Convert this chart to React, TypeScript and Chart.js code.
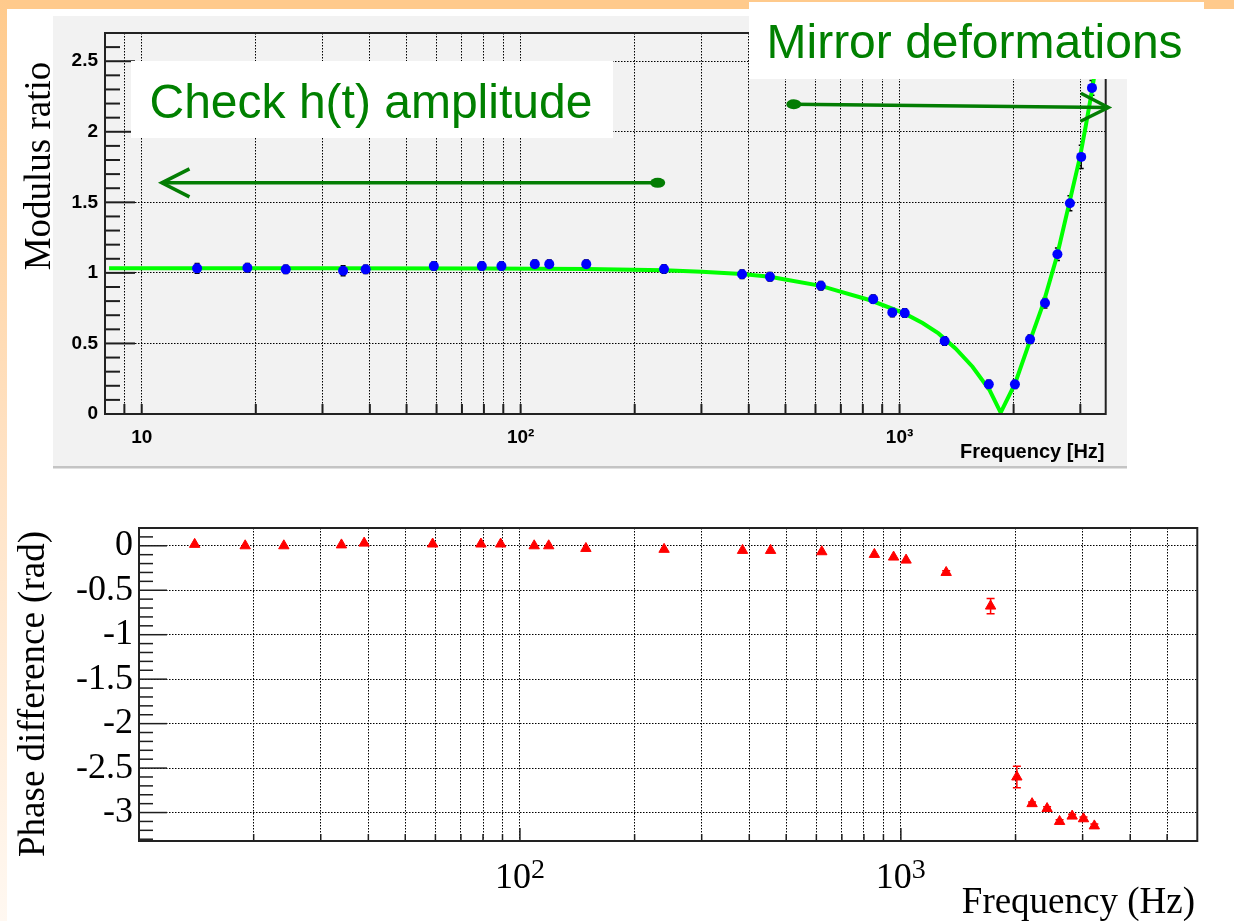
import React, { useEffect, useRef } from 'react';
import { Chart, registerables } from 'chart.js';

Chart.register(...registerables);

// ---- measured samples (frequency in Hz) ----
const frequencies = [14, 19, 24, 34, 39, 59, 79, 89, 109, 119, 149, 239, 384, 455, 620, 852, 957, 1032, 1315, 1720, 2016, 2210, 2420, 2610, 2816, 3016, 3220];
const modulusRatio = [1.032, 1.036, 1.025, 1.015, 1.025, 1.048, 1.048, 1.048, 1.062, 1.062, 1.062, 1.027, 0.99, 0.972, 0.909, 0.814, 0.72, 0.715, 0.517, 0.21, 0.21, 0.529, 0.786, 1.132, 1.494, 1.822, 2.311];
const modulusError = [0.035, 0.03, 0.03, 0.035, 0.03, 0.03, 0.03, 0.03, 0.03, 0.03, 0.03, 0.03, 0.03, 0.03, 0.03, 0.03, 0.03, 0.03, 0.03, 0.03, 0.03, 0.03, 0.035, 0.045, 0.053, 0.083, 0.053];
const phaseDifference = [0.016, 0.0, 0.0, 0.01, 0.03, 0.02, 0.02, 0.02, 0.0, 0.0, -0.03, -0.04, -0.052, -0.052, -0.067, -0.097, -0.127, -0.161, -0.3, -0.678, -2.6, -2.9, -2.955, -3.1, -3.04, -3.07, -3.15];
const phaseError = [0, 0, 0, 0, 0, 0, 0, 0, 0, 0, 0, 0, 0, 0, 0, 0, 0, 0, 0.02, 0.085, 0.12, 0.02, 0.02, 0.02, 0.02, 0.02, 0.02];

// ---- fitted modulus model ----
const fitFrequencies = [8.2, 30, 80, 150, 240, 300, 384, 455, 499, 620, 680, 837, 1030, 1150, 1267, 1405, 1558, 1728, 1849, 2018, 2197, 2396, 2600, 2790, 2994, 3100, 3200, 3300, 3420];
const fitModulus = [1.032, 1.032, 1.031, 1.027, 1.018, 1.008, 0.992, 0.972, 0.953, 0.908, 0.876, 0.806, 0.713, 0.645, 0.571, 0.465, 0.335, 0.17, 0.01, 0.217, 0.5, 0.784, 1.114, 1.468, 1.822, 2.04, 2.25, 2.47, 2.75];

// ---- axes ----
const modulusXTicks = [9, 10, 20, 30, 40, 50, 60, 70, 80, 90, 100, 200, 300, 400, 500, 600, 700, 800, 900, 1000, 2000, 3000];
const modulusXLabels: Record<number, string> = { 10: '10', 100: '10²', 1000: '10³' };
const modulusYTicks = [0, 0.5, 1, 1.5, 2, 2.5];
const modulusYLabels = ['0', '0.5', '1', '1.5', '2', '2.5'];

const phaseXTicks = [20, 30, 40, 50, 60, 70, 80, 90, 100, 200, 300, 400, 500, 600, 700, 800, 900, 1000, 2000, 3000, 4000, 5000];
const phaseXDecades = [100, 1000];
const phaseXExponents = ['2', '3'];
const phaseYTicks = [0, -0.5, -1, -1.5, -2, -2.5, -3];
const phaseYLabels = ['0', '-0.5', '-1', '-1.5', '-2', '-2.5', '-3'];

// ---- annotation anchors (data units) ----
const amplitudeArrow = { fromX: 230, fromY: 1.638, toX: 11.3, toY: 1.638 };
const mirrorArrow = { fromX: 526, fromY: 2.195, toX: 3557, toY: 2.172 };

const SANS = '"Liberation Sans", Arial, Helvetica, sans-serif';
const SERIF = '"Liberation Serif", "Times New Roman", Times, serif';
const NOTE_GREEN = '#008000';
const ARROW_GREEN = '#037d03';

const TOP_H = 470;
const BOTTOM_H = 451;
const PANEL = { left: 53, top: 16, right: 1127, bottom: 467 };

function drawArrow(ctx: CanvasRenderingContext2D, x0: number, y0: number, x1: number, y1: number) {
  ctx.save();
  ctx.strokeStyle = ARROW_GREEN;
  ctx.fillStyle = ARROW_GREEN;
  ctx.lineWidth = 3.5;
  ctx.beginPath();
  ctx.moveTo(x0, y0);
  ctx.lineTo(x1, y1);
  ctx.stroke();
  const ang = Math.atan2(y1 - y0, x1 - x0);
  const arm = 31;
  const spread = 0.47;
  ctx.beginPath();
  ctx.moveTo(x1 - arm * Math.cos(ang - spread), y1 - arm * Math.sin(ang - spread));
  ctx.lineTo(x1, y1);
  ctx.lineTo(x1 - arm * Math.cos(ang + spread), y1 - arm * Math.sin(ang + spread));
  ctx.stroke();
  ctx.beginPath();
  ctx.ellipse(x0, y0, 7.5, 5, ang, 0, Math.PI * 2);
  ctx.fill();
  ctx.restore();
}

function drawErrorBars(chart: any, values: number[], errors: number[], color: string, cap: number) {
  const { ctx, scales } = chart;
  const x = scales.x;
  const y = scales.y;
  ctx.save();
  ctx.strokeStyle = color;
  ctx.lineWidth = 1.5;
  frequencies.forEach((f, i) => {
    const e = errors[i];
    if (!e) return;
    const px = x.getPixelForValue(f);
    const yTop = y.getPixelForValue(values[i] + e);
    const yBot = y.getPixelForValue(values[i] - e);
    ctx.beginPath();
    ctx.moveTo(px, yTop);
    ctx.lineTo(px, yBot);
    ctx.moveTo(px - cap, yTop);
    ctx.lineTo(px + cap, yTop);
    ctx.moveTo(px - cap, yBot);
    ctx.lineTo(px + cap, yBot);
    ctx.stroke();
  });
  ctx.restore();
}

function drawFrameAndTicks(
  chart: any,
  yMin: number,
  yMax: number,
  xTicks: number[],
  majorX: number[],
  len: { yMajor: number; yMinor: number; xMajor: number; xMinor: number },
  lineWidth: number
) {
  const { ctx, chartArea: a, scales } = chart;
  const x = scales.x;
  const y = scales.y;
  ctx.save();
  ctx.strokeStyle = '#1e1e1e';
  ctx.lineWidth = lineWidth;
  const k0 = Math.ceil(yMin * 10 - 1e-6);
  const k1 = Math.floor(yMax * 10 + 1e-6);
  for (let k = k0; k <= k1; k++) {
    const py = y.getPixelForValue(k / 10);
    const l = k % 5 === 0 ? len.yMajor : len.yMinor;
    ctx.beginPath();
    ctx.moveTo(a.left, py);
    ctx.lineTo(a.left + l, py);
    ctx.stroke();
  }
  xTicks.forEach((v) => {
    const px = x.getPixelForValue(v);
    const l = majorX.includes(v) ? len.xMajor : len.xMinor;
    ctx.beginPath();
    ctx.moveTo(px, a.bottom);
    ctx.lineTo(px, a.bottom - l);
    ctx.stroke();
  });
  ctx.lineWidth = 2;
  ctx.strokeStyle = '#222';
  ctx.strokeRect(a.left, a.top, a.right - a.left, a.bottom - a.top);
  ctx.restore();
}

function verticalTitle(ctx: CanvasRenderingContext2D, text: string, baselineX: number, endY: number, font: string) {
  ctx.save();
  ctx.translate(baselineX, endY);
  ctx.rotate(-Math.PI / 2);
  ctx.font = font;
  ctx.fillStyle = '#000';
  ctx.textAlign = 'right';
  ctx.textBaseline = 'alphabetic';
  ctx.fillText(text, 0, 0);
  ctx.restore();
}

const modulusDecor = {
  id: 'modulusDecor',
  beforeDraw(chart: any) {
    const ctx = chart.ctx;
    ctx.save();
    ctx.fillStyle = '#f2f2f2';
    ctx.fillRect(PANEL.left, PANEL.top, PANEL.right - PANEL.left, PANEL.bottom - PANEL.top);
    ctx.fillStyle = '#c4c4c4';
    ctx.fillRect(PANEL.left, PANEL.bottom - 1, PANEL.right - PANEL.left, 2.5);
    ctx.restore();
  },
  beforeDatasetsDraw(chart: any) {
    drawErrorBars(chart, modulusRatio, modulusError, '#000', 2.5);
  },
  afterDraw(chart: any) {
    const ctx = chart.ctx;
    const { x, y } = chart.scales;
    drawFrameAndTicks(chart, 0, 2.7, modulusXTicks, [10, 100, 1000], { yMajor: 30, yMinor: 15, xMajor: 10, xMinor: 10 }, 2);

    verticalTitle(ctx, 'Modulus ratio', 49.5, 61.7, `37px ${SERIF}`);

    ctx.save();
    ctx.font = `bold 20px ${SANS}`;
    ctx.fillStyle = '#000';
    ctx.textAlign = 'right';
    ctx.textBaseline = 'alphabetic';
    ctx.fillText('Frequency [Hz]', 1104.5, 457.7);

    // note boxes
    ctx.fillStyle = '#fff';
    ctx.fillRect(131, 61, 482, 77);
    ctx.fillRect(749, 2, 455, 77);
    ctx.font = `48px ${SANS}`;
    ctx.fillStyle = NOTE_GREEN;
    ctx.textAlign = 'left';
    ctx.fillText('Check h(t) amplitude', 149.5, 118);
    ctx.fillText('Mirror deformations', 766.5, 58.3);
    ctx.restore();

    drawArrow(
      ctx,
      x.getPixelForValue(amplitudeArrow.fromX),
      y.getPixelForValue(amplitudeArrow.fromY),
      x.getPixelForValue(amplitudeArrow.toX),
      y.getPixelForValue(amplitudeArrow.toY)
    );
    drawArrow(
      ctx,
      x.getPixelForValue(mirrorArrow.fromX),
      y.getPixelForValue(mirrorArrow.fromY),
      x.getPixelForValue(mirrorArrow.toX),
      y.getPixelForValue(mirrorArrow.toY)
    );
  },
};

const phaseDecor = {
  id: 'phaseDecor',
  beforeDatasetsDraw(chart: any) {
    drawErrorBars(chart, phaseDifference, phaseError, '#ff0000', 4);
  },
  afterDraw(chart: any) {
    const ctx = chart.ctx;
    const a = chart.chartArea;
    const x = chart.scales.x;
    drawFrameAndTicks(chart, -3.32, 0.2, phaseXTicks, phaseXDecades, { yMajor: 28, yMinor: 14, xMajor: 13, xMinor: 7 }, 1.5);
    verticalTitle(ctx, 'Phase difference (rad)', 43.5, 61, `37px ${SERIF}`);
    ctx.save();
    ctx.fillStyle = '#000';
    ctx.textBaseline = 'alphabetic';
    // decade labels: mantissa "10" with a raised exponent, centred on the tick
    phaseXDecades.forEach((v, i) => {
      ctx.font = `36px ${SERIF}`;
      const wBase = ctx.measureText('10').width;
      ctx.font = `28px ${SERIF}`;
      const wExp = ctx.measureText(phaseXExponents[i]).width;
      const x0 = x.getPixelForValue(v) - (wBase + wExp) / 2;
      const base = a.bottom + 46.5;
      ctx.textAlign = 'left';
      ctx.font = `36px ${SERIF}`;
      ctx.fillText('10', x0, base);
      ctx.font = `28px ${SERIF}`;
      ctx.fillText(phaseXExponents[i], x0 + wBase, base - 9.5);
    });
    ctx.font = `37px ${SERIF}`;
    ctx.textAlign = 'right';
    ctx.fillText('Frequency (Hz)', 1195, 913 - TOP_H);
    ctx.restore();
  },
};

function fixedTicks(values: number[]) {
  return (scale: any) => {
    scale.ticks = values.map((v) => ({ value: v }));
  };
}

const gridStyle = { color: '#000', lineWidth: 1, drawTicks: false };
const dottedBorder = { display: false, dash: [1.5, 1.5] };

function modulusConfig(): any {
  return {
    type: 'scatter',
    data: {
      datasets: [
        {
          label: 'Modulus ratio',
          data: frequencies.map((f, i) => ({ x: f, y: modulusRatio[i] })),
          showLine: false,
          pointRadius: 5,
          pointHoverRadius: 5,
          pointBackgroundColor: '#0000ff',
          pointBorderColor: '#0000ff',
          pointBorderWidth: 0,
        },
        {
          label: 'Fit',
          data: fitFrequencies.map((f, i) => ({ x: f, y: fitModulus[i] })),
          showLine: true,
          pointRadius: 0,
          borderColor: '#00ff00',
          borderWidth: 4,
          tension: 0,
          fill: false,
        },
      ],
    },
    options: {
      animation: false,
      responsive: false,
      events: [],
      layout: { padding: { left: 0, top: 33, right: 1234 - 1105.7, bottom: 0 } },
      plugins: { legend: { display: false }, tooltip: { enabled: false } },
      scales: {
        x: {
          type: 'logarithmic',
          min: 8,
          max: 3500,
          afterBuildTicks: fixedTicks(modulusXTicks),
          afterFit: (s: any) => {
            s.height = TOP_H - 414;
          },
          grid: gridStyle,
          border: dottedBorder,
          ticks: {
            autoSkip: false,
            maxRotation: 0,
            minRotation: 0,
            padding: 12,
            color: '#000',
            font: { family: SANS, size: 19, weight: 'bold' },
            callback: (v: number) => modulusXLabels[v] ?? '',
          },
        },
        y: {
          type: 'linear',
          min: 0,
          max: 2.7,
          afterBuildTicks: fixedTicks(modulusYTicks),
          afterFit: (s: any) => {
            s.width = 105;
          },
          grid: gridStyle,
          border: dottedBorder,
          ticks: {
            autoSkip: false,
            padding: 7,
            color: '#000',
            font: { family: SANS, size: 19, weight: 'bold' },
            callback: (v: number) => modulusYLabels[modulusYTicks.indexOf(v)] ?? '',
          },
        },
      },
    },
    plugins: [modulusDecor],
  };
}

function phaseConfig(): any {
  return {
    type: 'scatter',
    data: {
      datasets: [
        {
          label: 'Phase difference',
          data: frequencies.map((f, i) => ({ x: f, y: phaseDifference[i] })),
          showLine: false,
          pointStyle: 'triangle',
          pointRadius: 6,
          pointHoverRadius: 6,
          pointBackgroundColor: '#ff0000',
          pointBorderColor: '#ff0000',
          pointBorderWidth: 1,
        },
      ],
    },
    options: {
      animation: false,
      responsive: false,
      events: [],
      layout: { padding: { left: 0, top: 528 - TOP_H, right: 1234 - 1197.3, bottom: 0 } },
      plugins: { legend: { display: false }, tooltip: { enabled: false } },
      scales: {
        x: {
          type: 'logarithmic',
          min: 10,
          max: 6000,
          afterBuildTicks: fixedTicks(phaseXTicks),
          afterFit: (s: any) => {
            s.height = BOTTOM_H - (841 - TOP_H);
          },
          grid: gridStyle,
          border: dottedBorder,
          ticks: {
            autoSkip: false,
            maxRotation: 0,
            minRotation: 0,
            padding: 12,
            color: '#000',
            font: { family: SERIF, size: 36 },
            callback: () => '',
          },
        },
        y: {
          type: 'linear',
          min: -3.32,
          max: 0.2,
          afterBuildTicks: fixedTicks(phaseYTicks),
          afterFit: (s: any) => {
            s.width = 139;
          },
          grid: gridStyle,
          border: dottedBorder,
          ticks: {
            autoSkip: false,
            padding: 6,
            color: '#000',
            font: { family: SERIF, size: 36 },
            callback: (v: number) => phaseYLabels[phaseYTicks.indexOf(v)] ?? '',
          },
        },
      },
    },
    plugins: [phaseDecor],
  };
}

export default function App() {
  const modulusRef = useRef<HTMLCanvasElement>(null);
  const phaseRef = useRef<HTMLCanvasElement>(null);

  useEffect(() => {
    const modulusChart = new Chart(modulusRef.current as HTMLCanvasElement, modulusConfig());
    const phaseChart = new Chart(phaseRef.current as HTMLCanvasElement, phaseConfig());
    return () => {
      modulusChart.destroy();
      phaseChart.destroy();
    };
  }, []);

  return (
    <div style={{ position: 'absolute', left: 0, top: 0, width: 1234, height: 921, background: '#fff', overflow: 'hidden' }}>
      <div style={{ position: 'absolute', left: 0, top: 0, width: 1234, height: 9, background: '#ffca8c' }} />
      <div
        style={{
          position: 'absolute',
          left: 0,
          top: 0,
          width: 7,
          height: 921,
          background: 'linear-gradient(#ffca8c, #ffe2c4 50%, #fff8f1)',
        }}
      />
      <canvas
        ref={modulusRef}
        width={1234}
        height={TOP_H}
        style={{ position: 'absolute', left: 0, top: 0, width: 1234, height: TOP_H }}
      />
      <canvas
        ref={phaseRef}
        width={1234}
        height={BOTTOM_H}
        style={{ position: 'absolute', left: 0, top: TOP_H, width: 1234, height: BOTTOM_H }}
      />
    </div>
  );
}
